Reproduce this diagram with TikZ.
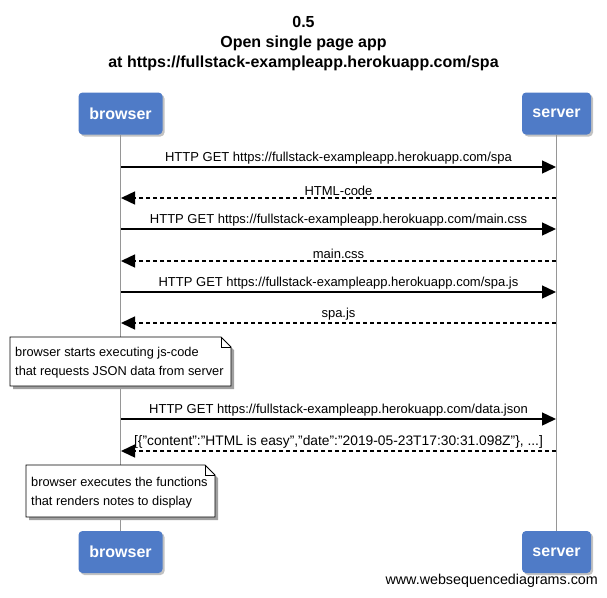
\documentclass[tikz,border=0pt]{standalone}
\usepackage{fontspec}
\setmainfont{Liberation Sans}
\usetikzlibrary{arrows.meta,shadows}
\definecolor{actorblue}{RGB}{79,123,199}
\definecolor{lifegray}{RGB}{150,150,150}
\definecolor{shadowgray}{RGB}{120,120,120}
\begin{document}
\begin{tikzpicture}[x=1pt,y=-1pt,
  actor/.style={rectangle, rounded corners=4pt, fill=actorblue, text=white,
    font=\fontsize{16}{18}\selectfont\bfseries, minimum height=42pt, inner sep=2pt,
    drop shadow={shadow xshift=2pt, shadow yshift=-2pt, opacity=0.45, fill=shadowgray}},
  life/.style={draw=lifegray, line width=1.5pt},
  msg/.style={line width=1.4pt, -{Triangle[length=14pt,width=13pt]}},
  req/.style={msg},
  resp/.style={msg, dash pattern=on 4pt off 3pt},
  lbl/.style={font=\fontsize{13}{15}\selectfont, inner sep=1pt, above=1pt},
  notetext/.style={font=\fontsize{12.8}{19}\selectfont, align=left, inner sep=0pt, anchor=west},
  notebox/.style={draw=black, line width=0.8pt, fill=white},
  noteshadow/.style={fill=shadowgray!70, draw=none},
  title/.style={font=\fontsize{16}{19}\selectfont\bfseries}
]
\useasboundingbox (0,0) rectangle (607,597);

% title
\node[title] (t1) at (303.5,22) {0.5};
\node[title] (t2) at (303.5,43) {Open single page app};
\node[title] (t3) at (303.5,63) {at https://fullstack-exampleapp.herokuapp.com/spa};

% actors
\node[actor, minimum width=84pt] (b1) at (120.5,113.5) {browser};
\node[actor, minimum width=69pt] (s1) at (556.5,113.5) {server};
\node[actor, minimum width=84pt] (b2) at (120.5,552) {browser};
\node[actor, minimum width=69pt] (s2) at (556.5,552) {server};

% lifelines
\draw[life] (b1.south) -- (b2.north);
\draw[life] (s1.south) -- (s2.north);

% message anchor points
\foreach \n/\y in {1/167,2/198,3/229,4/261,5/292,6/323,7/419,8/451}{
  \coordinate (mb\n) at (121,\y);
  \coordinate (ms\n) at (556,\y);
}

\draw[req] (mb1) -- node[lbl] {HTTP GET https://fullstack-exampleapp.herokuapp.com/spa} (ms1);
\draw[resp] (ms2) -- node[lbl] {HTML-code} (mb2);
\draw[req] (mb3) -- node[lbl] {HTTP GET https://fullstack-exampleapp.herokuapp.com/main.css} (ms3);
\draw[resp] (ms4) -- node[lbl] {main.css} (mb4);
\draw[req] (mb5) -- node[lbl] {HTTP GET https://fullstack-exampleapp.herokuapp.com/spa.js} (ms5);
\draw[resp] (ms6) -- node[lbl] {spa.js} (mb6);
\draw[req] (mb7) -- node[lbl] {HTTP GET https://fullstack-exampleapp.herokuapp.com/data.json} (ms7);
\draw[resp] (ms8) -- node[lbl, font=\fontsize{13.8}{15}\selectfont] {[\{"content":"HTML is easy","date":"2019-05-23T17:30:31.098Z"\}, ...]} (mb8);

% note 1
\fill[noteshadow] (13,340) -- (224,340) -- (234,350) -- (234,389) -- (13,389) -- cycle;
\draw[notebox] (10,337) -- (221,337) -- (231,347) -- (231,386) -- (10,386) -- cycle;
\draw[line width=0.8pt] (221,337) -- (221,347) -- (231,347);
\node[notetext] (n1) at (15,363) {browser starts executing js-code\\that requests JSON data from server};

% note 2
\fill[noteshadow] (29,468) -- (208,468) -- (218,478) -- (218,520) -- (29,520) -- cycle;
\draw[notebox] (26,465) -- (205,465) -- (215,475) -- (215,517) -- (26,517) -- cycle;
\draw[line width=0.8pt] (205,465) -- (205,475) -- (215,475);
\node[notetext] (n2) at (31,492.5) {browser executes the functions\\that renders notes to display};

% footer
\node[font=\fontsize{14.3}{16}\selectfont, anchor=east, inner sep=0pt] (f) at (598,581) {www.websequencediagrams.com};
\end{tikzpicture}
\end{document}
